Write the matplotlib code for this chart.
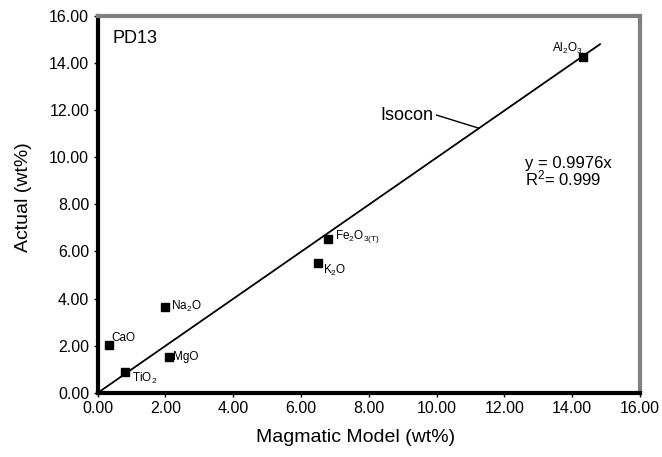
import matplotlib
matplotlib.use("Agg")
import matplotlib.pyplot as plt
import numpy as np

names = ["Al$_2$O$_3$", "Fe$_2$O$_{3(T)}$", "K$_2$O", "Na$_2$O", "CaO", "MgO", "TiO$_2$"]
model = [14.32, 6.8, 6.5, 1.99, 0.34, 2.11, 0.81]
actual = [14.24, 6.53, 5.51, 3.64, 2.03, 1.53, 0.89]
slope = 0.9976
ticks = [0, 2, 4, 6, 8, 10, 12, 14, 16]

plt.rcParams['font.family'] = ['Liberation Sans', 'DejaVu Sans']
plt.rcParams['mathtext.default'] = 'regular'

fig = plt.figure(figsize=(6.62, 4.57), dpi=100)
ax = fig.add_axes([0.1473, 0.140, 0.8195, 0.826])

ax.plot(model, actual, 's', color='black', markersize=5.5, zorder=3)
xl = np.array([0, 14.82])
ax.plot(xl, slope * xl, color='black', lw=1.3, zorder=2)

offsets = {
    0: (0, 6.5, 'right', 'center'),
    1: (5, 1.5, 'left', 'center'),
    2: (3.5, -5, 'left', 'center'),
    3: (4, 0.5, 'left', 'center'),
    4: (2, 5, 'left', 'center'),
    5: (3, 0, 'left', 'center'),
    6: (5, -4.5, 'left', 'center'),
}
for i, n in enumerate(names):
    dx, dy, ha, va = offsets[i]
    ax.annotate(n, (model[i], actual[i]), xytext=(dx, dy), textcoords='offset points',
                ha=ha, va=va, fontsize=8.5)

ax.text(0.43, 15.04, "PD13", fontsize=13, ha='left', va='center')
ax.text(9.13, 11.78, "Isocon", fontsize=13, ha='center', va='center')
ax.plot([10.0, 11.25], [11.78, 11.25 * slope], color='black', lw=1)
ax.text(12.61, 9.35, "y = 0.9976x\nR$^2$= 0.999", fontsize=12, ha='left', va='center', linespacing=0.85)

ax.set_xlim(0, 16)
ax.set_ylim(0, 16)
ax.set_xticks(ticks)
ax.set_yticks(ticks)
ax.set_xticklabels([f"{t:.2f}" for t in ticks], fontsize=11.5)
ax.set_yticklabels([f"{t:.2f}" for t in ticks], fontsize=11.5)
ax.tick_params(direction='out', length=3, width=1, pad=3)
ax.set_xlabel("Magmatic Model (wt%)", fontsize=14)
ax.set_ylabel("Actual (wt%)", fontsize=14)
ax.xaxis.set_label_coords(0.4765, -0.094)
ax.yaxis.set_label_coords(-0.1207, 0.518)

for s in ['left', 'bottom']:
    ax.spines[s].set_linewidth(3)
    ax.spines[s].set_color('black')
for s in ['top', 'right']:
    ax.spines[s].set_linewidth(3)
    ax.spines[s].set_color('#7f7f7f')

fig.savefig("out.png", dpi=100)
